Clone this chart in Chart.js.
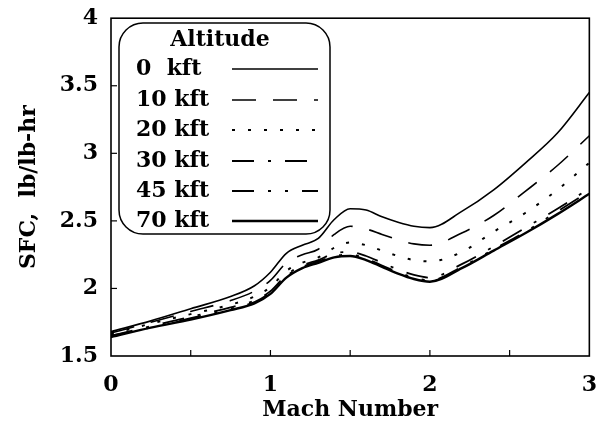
<!DOCTYPE html>
<html>
<head>
<meta charset="utf-8">
<script src="https://cdn.jsdelivr.net/npm/chart.js@4.4.0/dist/chart.umd.min.js"></script>
<style>
  html, body { margin: 0; padding: 0; background: #fff; }
  #wrap { width: 605px; height: 427px; }
</style>
</head>
<body>
<div id="wrap"><canvas id="sfcChart" width="605" height="427"></canvas></div>
<script>
// Mach numbers the curves were read at
const mach = [0, 0.25, 0.5, 0.75, 0.9, 1.0, 1.1, 1.2, 1.3, 1.4, 1.5, 1.6, 1.7, 1.8, 1.9, 2.0, 2.2, 2.4, 2.6, 2.8, 3.0];

// SFC (lb/lb-hr) per altitude
const sfc0  = [1.68, 1.76, 1.85, 1.94, 2.02, 2.12, 2.26, 2.32, 2.37, 2.51, 2.59, 2.58, 2.53, 2.49, 2.46, 2.45, 2.57, 2.73, 2.93, 3.15, 3.45];
const sfc10 = [1.67, 1.75, 1.83, 1.91, 1.98, 2.06, 2.19, 2.25, 2.29, 2.40, 2.46, 2.44, 2.40, 2.36, 2.33, 2.32, 2.41, 2.54, 2.72, 2.91, 3.13];
const sfc20 = [1.66, 1.74, 1.81, 1.88, 1.94, 2.01, 2.13, 2.19, 2.23, 2.30, 2.34, 2.32, 2.28, 2.24, 2.21, 2.20, 2.27, 2.42, 2.56, 2.73, 2.93];
const sfc30 = [1.65, 1.72, 1.79, 1.86, 1.91, 1.98, 2.10, 2.17, 2.21, 2.26, 2.27, 2.24, 2.19, 2.14, 2.10, 2.08, 2.18, 2.31, 2.45, 2.59, 2.74];
const sfc45 = [1.65, 1.71, 1.78, 1.85, 1.90, 1.97, 2.09, 2.16, 2.20, 2.24, 2.25, 2.22, 2.17, 2.12, 2.08, 2.06, 2.16, 2.29, 2.42, 2.57, 2.72];
const sfc70 = [1.64, 1.71, 1.77, 1.84, 1.89, 1.96, 2.08, 2.15, 2.19, 2.23, 2.24, 2.21, 2.16, 2.11, 2.07, 2.05, 2.15, 2.28, 2.41, 2.55, 2.70];

const altLabels = ['0  kft', '10 kft', '20 kft', '30 kft', '45 kft', '70 kft'];
const xTicks = [0, 0.5, 1, 1.5, 2, 2.5, 3];
const yTicks = [1.5, 2, 2.5, 3, 3.5, 4];

const FONT = '"DejaVu Serif", "Liberation Serif", serif';

function pts(arr) {
  return arr.map((v, i) => ({ x: mach[i], y: v }));
}

const styles = [
  { dash: [], width: 1.6 },
  { dash: [24, 17], width: 1.6 },
  { dash: [3, 13], width: 2 },
  { dash: [22, 14, 3, 14], width: 1.8 },
  { dash: [22, 14, 3, 14, 3, 14], width: 1.8 },
  { dash: [], width: 2.4 }
];

const series = [sfc0, sfc10, sfc20, sfc30, sfc45, sfc70];

const datasets = series.map((s, i) => ({
  label: altLabels[i],
  data: pts(s),
  borderColor: '#000',
  borderWidth: styles[i].width,
  borderDash: styles[i].dash,
  pointRadius: 0,
  fill: false,
  cubicInterpolationMode: 'monotone'
}));

// frame, inward ticks and the rounded legend box
const framePlugin = {
  id: 'frame',
  afterDraw(chart) {
    const ctx = chart.ctx;
    const a = chart.chartArea;
    const xs = chart.scales.x, ys = chart.scales.y;
    ctx.save();
    ctx.strokeStyle = '#000';
    ctx.lineWidth = 1.6;
    ctx.setLineDash([]);
    ctx.strokeRect(a.left, a.top, a.right - a.left, a.bottom - a.top);
    ctx.lineWidth = 1.2;
    xTicks.forEach(t => {
      if (t === 0 || t === 3) return;
      const px = xs.getPixelForValue(t);
      ctx.beginPath(); ctx.moveTo(px, a.bottom); ctx.lineTo(px, a.bottom - 6); ctx.stroke();
    });
    yTicks.forEach(t => {
      if (t === 1.5 || t === 4) return;
      const py = ys.getPixelForValue(t);
      ctx.beginPath(); ctx.moveTo(a.left, py); ctx.lineTo(a.left + 6, py); ctx.stroke();
    });

    // legend
    const bx = 119, by = 23, bw = 211, bh = 211, r = 24;
    ctx.fillStyle = '#fff';
    ctx.beginPath();
    ctx.roundRect(bx, by, bw, bh, r);
    ctx.fill();
    ctx.lineWidth = 1.5;
    ctx.stroke();
    ctx.fillStyle = '#000';
    ctx.font = 'bold 22px ' + FONT;
    ctx.textBaseline = 'middle';
    ctx.textAlign = 'center';
    ctx.fillText('Altitude', 220, 40);
    ctx.textAlign = 'left';
    const rowY = [69, 100, 130, 161, 191, 221];
    chart.data.datasets.forEach((d, i) => {
      ctx.fillText(d.label, 136, rowY[i]);
      ctx.lineWidth = d.borderWidth;
      ctx.setLineDash(d.borderDash);
      ctx.beginPath();
      ctx.moveTo(232, rowY[i]);
      ctx.lineTo(318, rowY[i]);
      ctx.stroke();
    });
    ctx.restore();
  }
};

new Chart(document.getElementById('sfcChart'), {
  type: 'line',
  data: { datasets: datasets },
  options: {
    responsive: false,
    animation: false,
    layout: { padding: { top: 18, right: 15, left: 0, bottom: 0 } },
    plugins: { legend: { display: false }, tooltip: { enabled: false } },
    scales: {
      x: {
        type: 'linear',
        min: 0, max: 3,
        afterBuildTicks: s => { s.ticks = xTicks.map(v => ({ value: v })); },
        afterFit: s => { s.height = 71; },
        grid: { display: false },
        border: { display: false },
        ticks: {
          color: '#000',
          padding: 8,
          maxRotation: 0,
          font: { family: FONT, size: 22, weight: 'bold' },
          callback: v => (Number.isInteger(v) ? String(v) : '')
        },
        title: {
          display: true,
          text: 'Mach Number',
          color: '#000',
          padding: { top: 0 },
          font: { family: FONT, size: 22, weight: 'bold' }
        }
      },
      y: {
        min: 1.5, max: 4,
        afterBuildTicks: s => { s.ticks = yTicks.map(v => ({ value: v })); },
        afterFit: s => { s.width = 111; },
        grid: { display: false },
        border: { display: false },
        ticks: {
          color: '#000',
          padding: 5,
          font: { family: FONT, size: 22, weight: 'bold' },
          callback: v => String(v)
        },
        title: {
          display: true,
          text: 'SFC,  lb/lb-hr',
          color: '#000',
          padding: { top: 16, bottom: 0 },
          font: { family: FONT, size: 22, weight: 'bold' }
        }
      }
    }
  },
  plugins: [framePlugin]
});
</script>
</body>
</html>
